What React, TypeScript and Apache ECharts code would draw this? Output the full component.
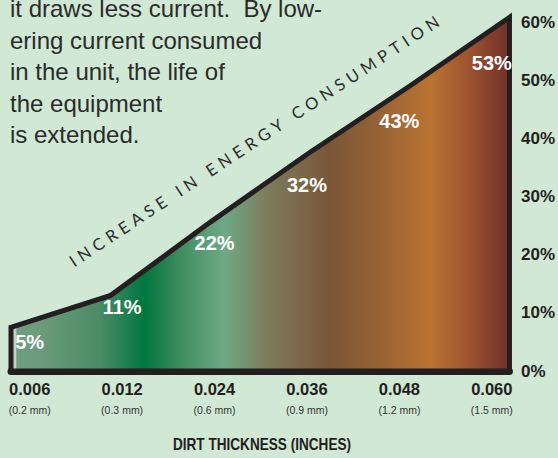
import React, { useEffect, useRef } from "react";
import * as echarts from "echarts";

// ---- data ----
const thicknessInches = ["0.006", "0.012", "0.024", "0.036", "0.048", "0.060"];
const thicknessMm = ["(0.2 mm)", "(0.3 mm)", "(0.6 mm)", "(0.9 mm)", "(1.2 mm)", "(1.5 mm)"];
const increasePct = [5, 11, 22, 32, 43, 53];
// height of the drawn curve at each of its six vertices (percent)
const curveHeights = [7.5, 13.0, 25.6, 37.6, 49.0, 60.8];
const yTicks = [0, 10, 20, 30, 40, 50, 60];
const introLines = [
  "it draws less current.  By low-",
  "ering current consumed",
  "in the unit, the life of",
  "the equipment",
  "is extended.",
];
const diagonalText = "INCREASE IN ENERGY CONSUMPTION";
const xTitle = "DIRT THICKNESS (INCHES)";

const INK = "#231f20";
const BG = "#d0e8d4";
const SANS = "'Liberation Sans', Arial, sans-serif";
const DIAG_FONT = "Lato, 'Liberation Sans', sans-serif";
const DIAG_SIZE = 16.5;
const DIAG_LEN = 440;

export default function App() {
  const ref = useRef<HTMLDivElement>(null);

  useEffect(() => {
    if (!ref.current) return;
    const chart = echarts.init(ref.current, undefined, { renderer: "svg" });

    const last = curveHeights.length - 1;
    const areaData: number[][] = [[0, 0]];
    curveHeights.forEach((v, i) => areaData.push([i, v]));
    areaData.push([last, 0]);
    areaData.push([0, 0]);

    const gradient = new echarts.graphic.LinearGradient(0, 0, 1, 0, [
      { offset: 0, color: "#c4d2c8" },
      { offset: 0.009, color: "#c4d2c8" },
      { offset: 0.012, color: "#6e9e80" },
      { offset: 0.058, color: "#6b9b7c" },
      { offset: 0.178, color: "#4b8b66" },
      { offset: 0.268, color: "#007640" },
      { offset: 0.338, color: "#3e8d5f" },
      { offset: 0.428, color: "#6ea986" },
      { offset: 0.508, color: "#7d7e5e" },
      { offset: 0.639, color: "#7a5638" },
      { offset: 0.739, color: "#976335" },
      { offset: 0.843, color: "#ba7332" },
      { offset: 0.919, color: "#9c5330" },
      { offset: 1, color: "#70302a" },
    ]);

    const option: any = {
      animation: false,
      backgroundColor: BG,
      grid: [
        { left: 11, right: 47.5, top: 22, bottom: 87 },
        { left: 29.7, right: 66.2, top: 22, bottom: 87 },
      ],
      xAxis: [
        {
          type: "value",
          gridIndex: 0,
          min: 0,
          max: last,
          axisLine: { show: true, onZero: false, lineStyle: { color: INK, width: 7 } },
          axisTick: { show: false },
          axisLabel: { show: false },
          splitLine: { show: false },
        },
        {
          type: "category",
          gridIndex: 1,
          data: thicknessInches,
          boundaryGap: false,
          axisLine: { show: false },
          axisTick: { show: false },
          splitLine: { show: false },
          axisLabel: {
            interval: 0,
            margin: 8,
            formatter: (v: string, i: number) => `{a|${v}}\n{b|${thicknessMm[i]}}`,
            rich: {
              a: { fontSize: 16.5, fontWeight: "bold", color: INK, lineHeight: 20, fontFamily: SANS },
              b: { fontSize: 10.5, color: "#333", lineHeight: 22, fontFamily: SANS },
            },
          },
        },
      ],
      yAxis: [
        {
          type: "value",
          gridIndex: 0,
          position: "right",
          min: yTicks[0],
          max: yTicks[yTicks.length - 1],
          interval: yTicks[1] - yTicks[0],
          axisLine: { show: false },
          axisTick: { show: false },
          splitLine: { show: false },
          axisLabel: {
            formatter: "{value}%",
            margin: 11.5,
            color: INK,
            fontSize: 17,
            fontWeight: "bold",
            fontFamily: SANS,
          },
        },
        {
          type: "value",
          gridIndex: 1,
          min: yTicks[0],
          max: yTicks[yTicks.length - 1],
          show: false,
        },
      ],
      series: [
        {
          type: "line",
          xAxisIndex: 0,
          yAxisIndex: 0,
          data: areaData,
          symbol: "none",
          clip: false,
          silent: true,
          lineStyle: { color: INK, width: 5, join: "miter" },
          areaStyle: { color: gradient, opacity: 1 },
          z: 2,
        },
        {
          type: "scatter",
          xAxisIndex: 1,
          yAxisIndex: 1,
          data: increasePct,
          symbolSize: 0,
          silent: true,
          z: 5,
          itemStyle: { opacity: 1 },
          label: {
            show: true,
            position: "inside",
            formatter: "{c}%",
            color: "#ffffff",
            opacity: 1,
            fontSize: 20,
            fontWeight: "bold",
            fontFamily: SANS,
          },
        },
      ],
      graphic: [
        {
          type: "text",
          x: 10,
          y: -7,
          silent: true,
          style: {
            text: introLines.join("\n"),
            fontSize: 24,
            lineHeight: 31.5,
            fontFamily: SANS,
            fill: "#2b2b2b",
            align: "left",
            verticalAlign: "top",
          },
        },
        {
          type: "text",
          x: 71,
          y: 262.5,
          rotation: (33.5 * Math.PI) / 180,
          silent: true,
          style: {
            text: diagonalText,
            fontSize: DIAG_SIZE,
            fontWeight: "normal",
            fontFamily: DIAG_FONT,
            fill: "#2e2e2e",
            align: "left",
            verticalAlign: "middle",
          },
        },
        {
          type: "text",
          x: 262,
          y: 445,
          scaleX: 0.85,
          silent: true,
          style: {
            text: xTitle,
            fontSize: 16,
            fontWeight: "bold",
            fontFamily: SANS,
            fill: INK,
            align: "center",
            verticalAlign: "middle",
          },
        },
      ],
    };

    chart.setOption(option);

    // spread the diagonal caption's letters along the slope
    const applySpacing = () => {
      const el = ref.current;
      if (!el) return;
      const canvas = document.createElement("canvas");
      const ctx = canvas.getContext("2d");
      let w = 300;
      if (ctx) {
        ctx.font = `normal ${DIAG_SIZE}px ${DIAG_FONT}`;
        w = ctx.measureText(diagonalText).width;
      }
      const ls = Math.max(0, (DIAG_LEN - w) / (diagonalText.length - 1));
      el.querySelectorAll("text").forEach((t) => {
        if (t.textContent === diagonalText) t.setAttribute("letter-spacing", `${ls.toFixed(2)}px`);
      });
    };
    applySpacing();
    chart.on("finished", applySpacing);

    return () => {
      chart.dispose();
    };
  }, []);

  return (
    <div
      ref={ref}
      style={{ position: "fixed", left: 0, top: 0, width: 558, height: 458 }}
    />
  );
}
